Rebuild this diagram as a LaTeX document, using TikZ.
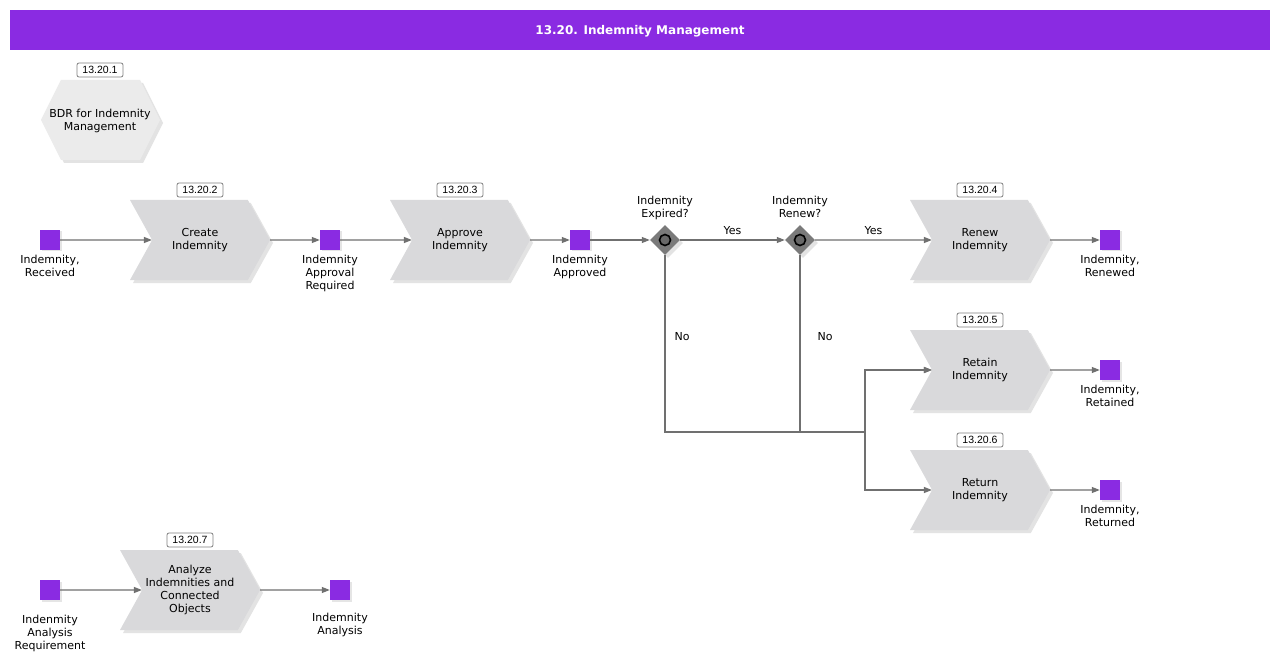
\documentclass[tikz,border=0pt]{standalone}
\usepackage{fontspec}
\setmainfont{DejaVu Sans}
\newfontfamily\numfont{Liberation Sans}
\usetikzlibrary{arrows.meta,positioning,shapes.symbols,shapes.geometric,shadows}
\definecolor{evpurple}{HTML}{8A2BE2}
\definecolor{fnfill}{HTML}{D9D9DB}
\definecolor{bdrfill}{HTML}{EBEBEB}
\definecolor{flowgray}{HTML}{707070}
\definecolor{gwfill}{HTML}{7A7A7A}
\tikzset{
  txt/.style={align=center, font=\fontsize{11}{13}\selectfont, inner sep=0pt},
  softshadow/.style={drop shadow={shadow xshift=3pt, shadow yshift=-3pt, fill=black!18, opacity=0.6}},
  func/.style={txt, shape=signal, signal from=west, signal to=east,
    signal pointer angle=122, fill=fnfill, minimum width=140pt,
    minimum height=80pt, softshadow},
  bdr/.style={fill=bdrfill, softshadow},
  event/.style={rectangle, fill=evpurple, minimum size=20pt, inner sep=0pt,
    drop shadow={shadow xshift=1.5pt, shadow yshift=-1.5pt, fill=black!20, opacity=0.5}},
  gateway/.style={diamond, fill=gwfill, minimum width=30pt, minimum height=30pt,
    inner sep=0pt, softshadow,
    path picture={\draw[line width=1.6pt, fill=gwfill!85!black]
      (path picture bounding box.center) circle (5.5pt);}},
  numbox/.style={draw=black!50, line width=0.8pt, fill=white, rounded corners=2pt,
    font=\numfont\fontsize{10.5}{12}\selectfont, minimum width=46pt,
    minimum height=14pt, inner sep=0pt},
  flow/.style={draw=flowgray, line width=1.1pt, -{Triangle[length=8pt,width=6pt]}},
}
\begin{document}
\begin{tikzpicture}[x=1pt,y=-1pt]
  \useasboundingbox (0,0) rectangle (1280,663);
  \fill[white] (0,0) rectangle (1280,663);
  \fill[evpurple] (10,10) rectangle (1270,50);
  \node[text=white, inner sep=0pt, font=\bfseries\fontsize{12}{14}\selectfont]
    (title) at (640,31) {13.20. Indemnity Management};

  \path[bdr] (41,120) -- (61,80) -- (140,80) -- (160,120) -- (140,160)
    -- (61,160) -- cycle;
  \node[txt] (f1) at (100,121) {BDR for Indemnity\\Management};
  \node[numbox] (n1) at (100,70) {13.20.1};

  \node[event] (e1) at (50,240) {};
  \node[txt, below=5pt of e1] (e1t) {Indemnity,\\Received};
  \node[func] (f2) at (200,240) {Create\\Indemnity};
  \node[numbox] (n2) at (200,190) {13.20.2};
  \node[event] (e2) at (330,240) {};
  \node[txt, below=5pt of e2] (e2t) {Indemnity\\Approval\\Required};
  \node[func] (f3) at (460,240) {Approve\\Indemnity};
  \node[numbox] (n3) at (460,190) {13.20.3};
  \node[event] (e3) at (580,240) {};
  \node[txt, below=5pt of e3] (e3t) {Indemnity\\Approved};

  \node[gateway] (g1) at (665,240) {};
  \node[txt, above=5pt of g1] (g1t) {Indemnity\\Expired?};
  \node[gateway] (g2) at (800,240) {};
  \node[txt, above=7pt of g2] (g2t) {Indemnity\\Renew?};
  \coordinate (join) at (865,432);

  \node[func] (f4) at (980,240) {Renew\\Indemnity};
  \node[numbox] (n4) at (980,190) {13.20.4};
  \node[event] (e4) at (1110,240) {};
  \node[txt, below=5pt of e4] (e4t) {Indemnity,\\Renewed};
  \node[func] (f5) at (980,370) {Retain\\Indemnity};
  \node[numbox] (n5) at (980,320) {13.20.5};
  \node[event] (e5) at (1110,370) {};
  \node[txt, below=5pt of e5] (e5t) {Indemnity,\\Retained};
  \node[func] (f6) at (980,490) {Return\\Indemnity};
  \node[numbox] (n6) at (980,440) {13.20.6};
  \node[event] (e6) at (1110,490) {};
  \node[txt, below=5pt of e6] (e6t) {Indemnity,\\Returned};

  \node[event] (e7) at (50,590) {};
  \node[txt, below=15pt of e7] (e7t) {Indenmity\\Analysis\\Requirement};
  \node[func] (f7) at (190,590) {Analyze\\Indemnities and\\Connected\\Objects};
  \node[numbox] (n7) at (190,540) {13.20.7};
  \node[event] (e8) at (340,590) {};
  \node[txt, below=13pt of e8] (e8t) {Indemnity\\Analysis};

  \path (e1) edge[flow] (f2);
  \path (f2) edge[flow] (e2);
  \path (e2) edge[flow] (f3);
  \path (f3) edge[flow] (e3);
  \path (e3) edge[flow] (g1);
  \path (g1) edge[flow] node[txt, above=5pt] {Yes} (g2);
  \path (g2) edge[flow] node[txt, above=5pt] {Yes} (f4);
  \path (f4) edge[flow] (e4);
  \draw[flow] (g1) |- node[txt, pos=0.23, right=9pt] {No} (join) |- (f5);
  \draw[flow] (g2) |- node[txt, pos=0.23, right=17pt] {No} (join) |- (f5);
  \draw[flow] (join) |- (f6);
  \path (f5) edge[flow] (e5);
  \path (f6) edge[flow] (e6);
  \path (e7) edge[flow] (f7);
  \path (f7) edge[flow] (e8);
\end{tikzpicture}
\end{document}
